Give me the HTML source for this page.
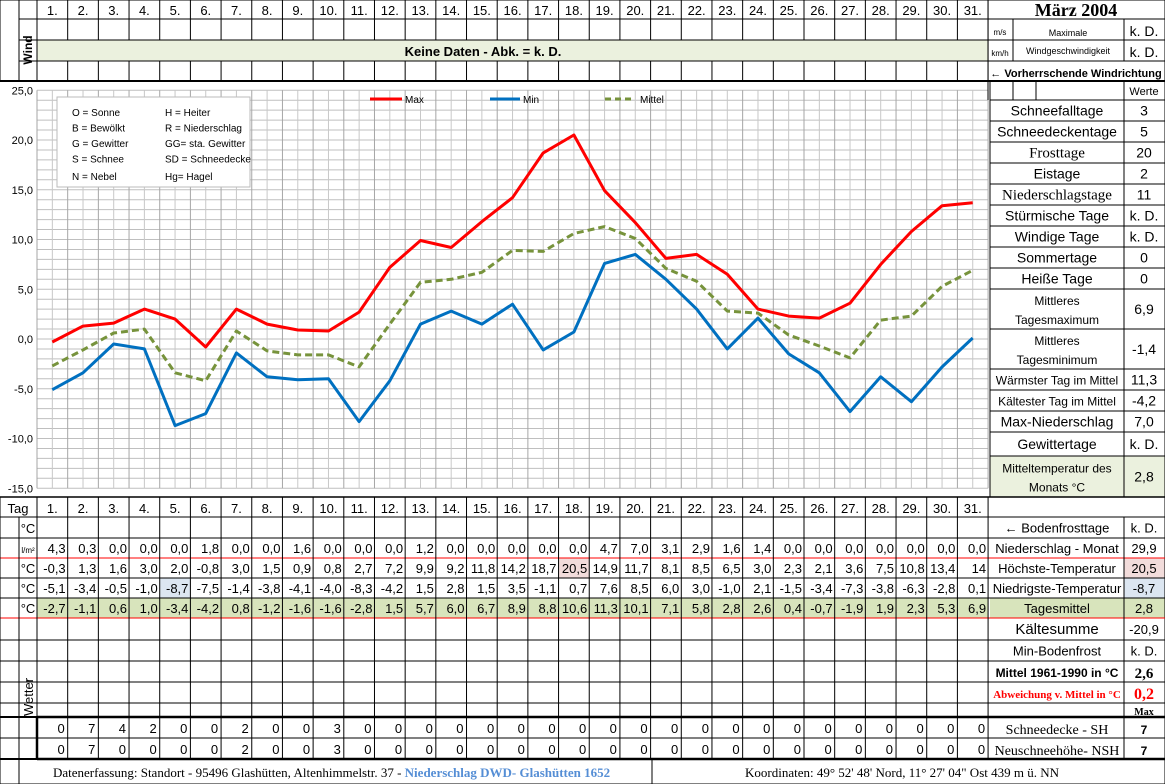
<!DOCTYPE html>
<html><head><meta charset="utf-8"><style>
html,body{margin:0;padding:0;background:#fff;}
svg{display:block;}
text{font-family:"Liberation Sans",sans-serif;}
.s{font-family:"Liberation Serif",serif;}
</style></head><body>
<svg id="c" width="1165" height="784" xmlns="http://www.w3.org/2000/svg"></svg>
<script>
const S=document.getElementById('c');let h='';
const X0=37,CW=30.68,XR=988;
const cx=i=>X0+CW*i;
const L=(x1,y1,x2,y2,c='#000',w=1,extra='')=>{h+=`<line x1="${x1}" y1="${y1}" x2="${x2}" y2="${y2}" stroke="${c}" stroke-width="${w}" ${extra}/>`;};
const R=(x,y,w,hh,f)=>{h+=`<rect x="${x}" y="${y}" width="${w}" height="${hh}" fill="${f}"/>`;};
const T=(x,y,t,o={})=>{h+=`<text x="${x}" y="${y}" font-size="${o.fs||12}" text-anchor="${o.a||'middle'}" fill="${o.c||'#000'}" ${o.b?'font-weight="bold"':''} ${o.cl?'class="'+o.cl+'"':''} ${o.tr?'transform="'+o.tr+'"':''}>${t}</text>`;};
R(X0,40,XR-X0,21,'#ebf1de');
R(X0,598,XR-X0,20,'#d8e4bc');R(990,598,175,20,'#d8e4bc');
R(990,456,175,41,'#ebf1de');
R(cx(17),558,CW,20,'#f2dcdb');R(1124,558,41,20,'#f2dcdb');
R(cx(4),578,CW,20,'#dce6f1');R(1124,578,41,20,'#dce6f1');
const yv=v=>339-v*9.95;
for(let v=-15;v<=25;v++){L(X0,yv(v),XR,yv(v),'#bfbfbf',1);}
for(let i=0;i<=62;i++){const x=X0+CW/2*i;L(x,yv(25),x,yv(-15),i%2?'#c8c8c8':'#a6a6a6',1);}
for(let v=-15;v<=25;v+=5){T(33,yv(v)+4,(v.toFixed(1)).replace('.',','),{a:'end',fs:11});}
h+=`<rect x="57" y="97" width="193" height="90" fill="#fff" stroke="#bbb"/>`;
const lg=[["O = Sonne","H = Heiter"],["B = Bewölkt","R = Niederschlag"],["G = Gewitter","GG= sta. Gewitter"],["S = Schnee","SD = Schneedecke"],["N = Nebel","Hg= Hagel"]];
lg.forEach((r,i)=>{const y=116+i*15.5+(i==4?2:0);T(72,y,r[0],{a:'start',fs:10});T(165,y,r[1],{a:'start',fs:10});});
L(370,99,402,99,'#f00',3);T(405,103,'Max',{a:'start',fs:10});
L(490,99,520,99,'#0070c0',3);T(523,103,'Min',{a:'start',fs:10});
L(605,99,635,99,'#77933c',3,'stroke-dasharray="6,4"');T(640,103,'Mittel',{a:'start',fs:10});
const mx=[-0.3,1.3,1.6,3.0,2.0,-0.8,3.0,1.5,0.9,0.8,2.7,7.2,9.9,9.2,11.8,14.2,18.7,20.5,14.9,11.7,8.1,8.5,6.5,3.0,2.3,2.1,3.6,7.5,10.8,13.4,13.7];
const mn=[-5.1,-3.4,-0.5,-1.0,-8.7,-7.5,-1.4,-3.8,-4.1,-4.0,-8.3,-4.2,1.5,2.8,1.5,3.5,-1.1,0.7,7.6,8.5,6.0,3.0,-1.0,2.1,-1.5,-3.4,-7.3,-3.8,-6.3,-2.8,0.1];
const md=[-2.7,-1.1,0.6,1.0,-3.4,-4.2,0.8,-1.2,-1.6,-1.6,-2.8,1.5,5.7,6.0,6.7,8.9,8.8,10.6,11.3,10.1,7.1,5.8,2.8,2.6,0.4,-0.7,-1.9,1.9,2.3,5.3,6.9];
const pl=(d,c,e='')=>{h+=`<polyline fill="none" stroke="${c}" stroke-width="3" stroke-linejoin="round" ${e} points="${d.map((v,i)=>(cx(i)+CW/2).toFixed(1)+','+yv(v).toFixed(1)).join(' ')}"/>`;};
pl(md,'#77933c','stroke-dasharray="7,4"');pl(mn,'#0070c0');pl(mx,'#f00');
for(let i=0;i<31;i++){T(cx(i)+CW/2,15,(i+1)+'.',{fs:13});T(cx(i)+CW/2,513,(i+1)+'.',{fs:13});}
[19,40,61].forEach(y=>L(19,y,1165,y));
L(0,0,1165,0);L(0,81,1165,81,'#000',2);
[0,19,37].forEach(x=>L(x,0,x,81));
for(let i=1;i<=31;i++){L(cx(i),0,cx(i),81);}
R(X0+1,40.5,XR-X0-2,20,'#ebf1de');
T(483,56,'Keine Daten - Abk. = k. D.',{fs:13,b:1});
T(32,50,'Wind',{fs:12,b:1,tr:'rotate(-90 32 50)',a:'middle'});
T(1076,16,'März 2004',{fs:18,b:1,cl:'s'});
L(1013,19,1013,61);L(1124,19,1124,61);L(988,0,988,100);
T(1000,35,'m/s',{fs:8});T(1000,56,'km/h',{fs:8});
T(1068,36,'Maximale',{fs:9});T(1068,54,'Windgeschwindigkeit',{fs:9});
T(1144,36,'k. D.',{fs:14});T(1144,57,'k. D.',{fs:14});
T(1076,77,'← <tspan font-weight="bold">Vorherrschende Windrichtung</tspan>',{fs:11});
L(1165,0,1165,784);L(1124,81,1124,497);L(990,81,990,497);
L(1013,81,1013,100);L(1036,81,1036,100);
T(1144,95,'Werte',{fs:11});
const st=[[100,121,'Schneefalltage','3'],[121,142,'Schneedeckentage','5'],[142,163,'Frosttage','20','s'],[163,184,'Eistage','2'],[184,205,'Niederschlagstage','11','s'],[205,226,'Stürmische Tage','k. D.'],[226,247,'Windige Tage','k. D.'],[247,268,'Sommertage','0'],[268,289,'Heiße Tage','0'],[289,329,'Mittleres|Tagesmaximum','6,9'],[329,369,'Mittleres|Tagesminimum','-1,4'],[369,390,'Wärmster Tag im Mittel','11,3'],[390,411,'Kältester Tag im Mittel','-4,2'],[411,432,'Max-Niederschlag','7,0'],[432,456,'Gewittertage','k. D.'],[456,497,'Mitteltemperatur des|Monats °C','2,8']];
st.forEach(r=>{L(990,r[0],1165,r[0]);const m=(r[0]+r[1])/2;const p=r[2].split('|');
 if(p.length==1)T(1057,m+5,p[0],{fs:r[2].length>20?12:(r[4]?15:14),cl:r[4]||''});else{T(1057,m-4,p[0],{fs:12});T(1057,m+15,p[1],{fs:12});}
 T(1144,m+5,r[3],{fs:14});});
L(990,497,1165,497);
const rows=[497,517,538,558,578,598,618,640,661,682,703,717,738,759,784];
rows.forEach(y=>{const w=(y==717||y==759)?2:1;L(0,y,1165,y,y==558||y==618?'#f00':'#000',w);});
L(0,497,1165,497,'#000',1.5);
for(let i=0;i<=31;i++){L(cx(i),497,cx(i),759);}
L(0,497,0,784);L(19,517,19,784);L(1124,517,1124,759);
T(18,513,'Tag',{fs:13});
['°C','l/m²','°C','°C','°C'].forEach((u,k)=>{T(28,[533,553,573,593,613][k],u,{fs:k==1?8:13});});
T(33,716,'Wetter',{fs:13,tr:'rotate(-90 33 716)',a:'start'});
L(19,618,19,759);L(37,618,37,759);
const pr=[4.3,0.3,0,0,0,1.8,0,0,1.6,0,0,0,1.2,0,0,0,0,0,4.7,7.0,3.1,2.9,1.6,1.4,0,0,0,0,0,0,0];
const f=v=>v.toFixed(1).replace('.',',');
const mxs=mx.map(f);mxs[30]='14';
for(let i=0;i<31;i++){const x=cx(i+1)-2;
 T(x,553,f(pr[i]),{a:'end',fs:13});T(x,573,mxs[i],{a:'end',fs:13});T(x,593,f(mn[i]),{a:'end',fs:13});T(x,613,f(md[i]),{a:'end',fs:13});}
const sh=[0,7,4,2,0,0,2,0,0,3],ns=[0,7,0,0,0,0,2,0,0,3];
for(let i=0;i<31;i++){const x=cx(i+1)-3;T(x,733,sh[i]||0,{a:'end',fs:13});T(x,754,ns[i]||0,{a:'end',fs:13});}
L(37,717,1165,717,'#000',2.5);L(37,759,1165,759,'#000',2.5);L(37,717,37,759,'#000',2.5);
const br=[[517,538,'← Bodenfrosttage','k. D.'],[538,558,'Niederschlag - Monat','29,9'],[558,578,'Höchste-Temperatur','20,5'],[578,598,'Niedrigste-Temperatur','-8,7'],[598,618,'Tagesmittel','2,8'],[618,640,'Kältesumme','-20,9'],[640,661,'Min-Bodenfrost','k. D.']];
br.forEach(r=>{const m=(r[0]+r[1])/2+5;T(1057,m,r[2],{fs:r[2]=='Kältesumme'?15:13});T(1144,m,r[3],{fs:13});});
T(1057,677,'Mittel 1961-1990 in °C',{fs:12,b:1});T(1144,678,'2,6',{fs:15,b:1,cl:'s'});
T(1057,698,'Abweichung v. Mittel in °C',{fs:11,b:1,c:'#f00',cl:'s'});T(1144,699,'0,2',{fs:16,b:1,c:'#f00',cl:'s'});
T(1144,715,'Max',{fs:10,b:1,cl:'s'});
T(1057,734,'Schneedecke -   SH',{fs:14,cl:'s'});T(1144,734,'7',{fs:12,b:1});
T(1057,755,'Neuschneehöhe- NSH',{fs:14,cl:'s'});T(1144,755,'7',{fs:12,b:1});
L(652,759,652,784);
T(53,777,'Datenerfassung:  Standort -  95496  Glashütten, Altenhimmelstr. 37 - <tspan fill="#558ed5" font-weight="bold">Niederschlag DWD- Glashütten 1652</tspan>',{a:'start',fs:13,cl:'s'});
T(745,777,'Koordinaten:  49° 52\' 48\' Nord,   11° 27\' 04" Ost   439 m ü. NN',{a:'start',fs:13,cl:'s'});
S.innerHTML=h;
</script>
</body></html>
